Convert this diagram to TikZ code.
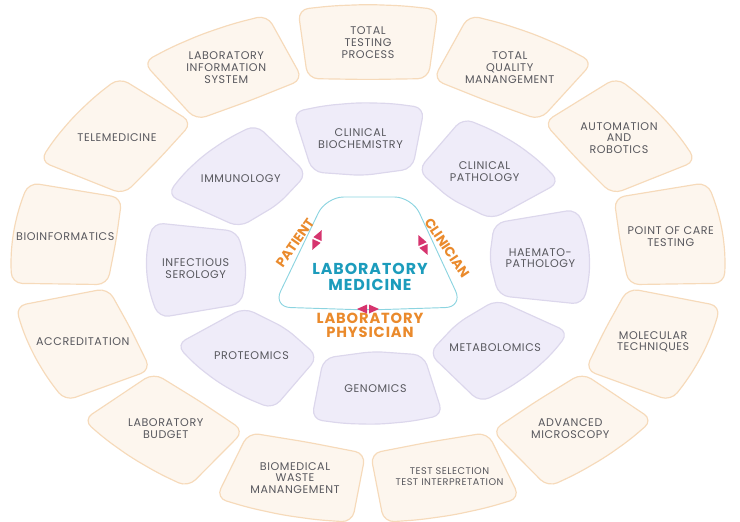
\documentclass[tikz,border=0pt]{standalone}
\usepackage{fontspec}
\setmainfont{Poppins}
\newfontfamily\petalfont{Poppins}[LetterSpace=5]
\newfontfamily\hubfont{Poppins}[LetterSpace=6]
\usepackage{tikz}
\usetikzlibrary{calc}
\definecolor{peachfill}{RGB}{253,246,238}
\definecolor{peachline}{RGB}{246,218,186}
\definecolor{lilacfill}{RGB}{239,236,249}
\definecolor{lilacline}{RGB}{220,215,236}
\definecolor{labelgray}{RGB}{88,88,94}
\definecolor{hubteal}{RGB}{28,156,188}
\definecolor{hubline}{RGB}{140,212,224}
\definecolor{roleorange}{RGB}{234,138,44}
\definecolor{rolepink}{RGB}{214,52,110}
\tikzset{
  outerpetal/.style={draw=peachline, fill=peachfill, line width=1pt,
    rounded corners=9pt},
  innerpetal/.style={draw=lilacline, fill=lilacfill, line width=1pt,
    rounded corners=9pt},
  petallabel/.style={align=center, text=labelgray, inner sep=1pt,
    font=\petalfont\fontsize{9.5}{10}\selectfont},
  smalllabel/.style={petallabel, font=\petalfont\fontsize{8.3}{9}\selectfont},
  hubbox/.style={draw=hubline, line width=0.8pt, rounded corners=15pt},
  hublabel/.style={align=center, text=hubteal, inner sep=1pt,
    font=\hubfont\fontsize{13.5}{13.5}\selectfont\bfseries},
  rolelabel/.style={align=center, text=roleorange, inner sep=0pt,
    font=\fontsize{11.5}{12}\selectfont\bfseries},
  widerole/.style={rolelabel, font=\hubfont\fontsize{12.5}{12}\selectfont\bfseries},
}
% petal: angle, inner half angle, outer half angle, inner corner r, inner mid r, outer r, style
\newcommand{\petal}[7]{%
  \draw[#7] ({#1+#2}:#4) -- (#1:#5) -- ({#1-#2}:#4)
    -- ({#1-#3}:#6) -- ({#1-#3/2}:#6) -- (#1:#6) -- ({#1+#3/2}:#6)
    -- ({#1+#3}:#6) -- cycle;}
% double arrow mark on the hub outline
\newcommand{\rolemark}[2]{%
  \begin{scope}[shift={(#1)}, rotate=#2]
    \fill[rolepink] (1,-4.5) -- (11,0) -- (1,4.5) -- cycle
      (-1,-4.5) -- (-11,0) -- (-1,4.5) -- cycle;
  \end{scope}}

\begin{document}
\begin{tikzpicture}[x=0.03cm, y=0.03cm]
  \useasboundingbox (0,0) rectangle (740,521);

  \begin{scope}[shift={(368,257.5)}, xscale=1.38]
    % outer ring
    \foreach \k in {0,...,12}{
      \pgfmathsetmacro{\a}{90-\k*360/13}
      \petal{\a}{13.3}{11.3}{190}{184}{259}{outerpetal}
    }
    \foreach \k/\txt in {
      0/{TOTAL\\TESTING\\PROCESS},
      1/{TOTAL\\QUALITY\\MANANGEMENT},
      2/{AUTOMATION\\AND\\ROBOTICS},
      3/{POINT OF CARE\\TESTING},
      4/{MOLECULAR\\TECHNIQUES},
      5/{ADVANCED\\MICROSCOPY},
      7/{BIOMEDICAL\\WASTE\\MANANGEMENT},
      8/{LABORATORY\\BUDGET},
      9/{ACCREDITATION},
      10/{BIOINFORMATICS},
      11/{TELEMEDICINE},
      12/{LABORATORY\\INFORMATION\\SYSTEM}}{
      \pgfmathsetmacro{\a}{90-\k*360/13}
      \node[petallabel] (out\k) at (\a:221) {\txt};
    }
    \node[smalllabel] (out6) at (-74.5:221)
      {TEST SELECTION\\TEST INTERPRETATION};

    % inner ring
    \foreach \k in {0,...,7}{
      \pgfmathsetmacro{\a}{92.5-\k*45}
      \petal{\a}{21.3}{17.2}{100}{88}{161}{innerpetal}
    }
    \foreach \k/\txt in {
      0/{CLINICAL\\BIOCHEMISTRY},
      1/{CLINICAL\\PATHOLOGY},
      2/{HAEMATO-\\PATHOLOGY},
      3/{METABOLOMICS},
      4/{GENOMICS},
      5/{PROTEOMICS},
      6/{INFECTIOUS\\SEROLOGY},
      7/{IMMUNOLOGY}}{
      \pgfmathsetmacro{\a}{92.5-\k*45}
      \node[petallabel] (in\k) at (\a:125) {\txt};
    }
  \end{scope}

  % hub
  \draw[hubbox] (326,324) -- (412,324) -- (463,214) -- (368,211)
    -- (273,214) -- cycle;
  \node[hublabel] (hub) at (370,244) {LABORATORY\\MEDICINE};

  % roles round the hub
  \node[rolelabel, rotate=55] (patient) at (295,278) {PATIENT};
  \node[rolelabel, rotate=-56] (clinician) at (447,273) {CLINICIAN};
  \node[widerole] (physician) at (370,196) {LABORATORY\\PHYSICIAN};

  \coordinate (markP) at (317,281);
  \coordinate (markC) at (423,276);
  \coordinate (markL) at (368,212);
  \rolemark{markP}{64.3}
  \rolemark{markC}{-65.1}
  \rolemark{markL}{0}
\end{tikzpicture}
\end{document}
